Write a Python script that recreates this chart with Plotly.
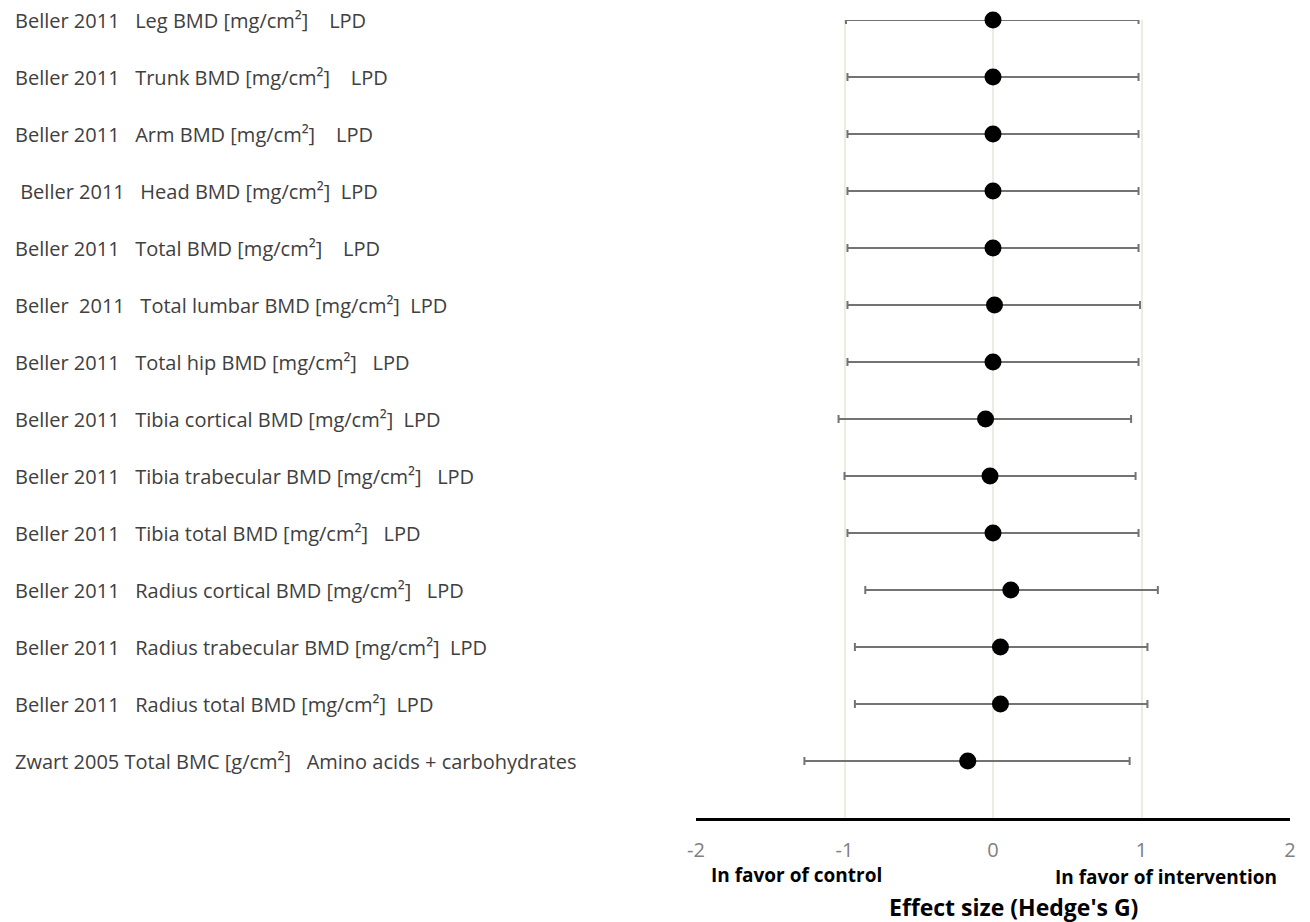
import plotly.graph_objects as go

labels = [
    "Beller 2011   Leg BMD [mg/cm²]    LPD",
    "Beller 2011   Trunk BMD [mg/cm²]    LPD",
    "Beller 2011   Arm BMD [mg/cm²]    LPD",
    " Beller 2011   Head BMD [mg/cm²]  LPD",
    "Beller 2011   Total BMD [mg/cm²]    LPD",
    "Beller  2011   Total lumbar BMD [mg/cm²]  LPD",
    "Beller 2011   Total hip BMD [mg/cm²]   LPD",
    "Beller 2011   Tibia cortical BMD [mg/cm²]  LPD",
    "Beller 2011   Tibia trabecular BMD [mg/cm²]   LPD",
    "Beller 2011   Tibia total BMD [mg/cm²]   LPD",
    "Beller 2011   Radius cortical BMD [mg/cm²]   LPD",
    "Beller 2011   Radius trabecular BMD [mg/cm²]  LPD",
    "Beller 2011   Radius total BMD [mg/cm²]  LPD",
    "Zwart 2005 Total BMC [g/cm²]   Amino acids + carbohydrates",
]
effect = [0.0, 0.0, 0.0, 0.0, 0.0, 0.01, 0.0, -0.05, -0.02, 0.0, 0.12, 0.05, 0.05, -0.17]
ci_low = [-0.99, -0.98, -0.98, -0.98, -0.98, -0.98, -0.98, -1.04, -1.00, -0.98, -0.86, -0.93, -0.93, -1.27]
ci_high = [0.98, 0.98, 0.98, 0.98, 0.98, 0.99, 0.98, 0.93, 0.96, 0.98, 1.11, 1.04, 1.04, 0.92]
x_ticks = [-2, -1, 0, 1, 2]

n = len(labels)
ypos = [n - i for i in range(n)]

# page body has an 8px margin; figure sized/offset to compensate
W, H = 1302, 914
L, R, T, B = 688, 20, 12, 104
plot_w = W - L - R

fig = go.Figure()
fig.add_trace(go.Scatter(
    x=effect, y=ypos, mode="markers",
    marker=dict(color="black", size=17),
    error_x=dict(type="data", symmetric=False,
                 array=[h - e for h, e in zip(ci_high, effect)],
                 arrayminus=[e - l for e, l in zip(effect, ci_low)],
                 color="#737373", thickness=2, width=4),
    cliponaxis=False, showlegend=False,
))

# zero line
fig.add_shape(type="line", x0=0, x1=0, y0=0, y1=n, xref="x", yref="y",
              line=dict(color="black", width=2), layer="below")

annotations = []
for lab, y in zip(labels, ypos):
    annotations.append(dict(
        text=lab.replace(" ", "\u00a0"), x=(5 - L) / plot_w, xref="paper", y=y, yref="y",
        xanchor="left", yanchor="middle", showarrow=False,
        font=dict(family="Open Sans", size=20, color="#404040")))

annotations.append(dict(text="<b>In favor of control</b>", x=-1.32, xref="x", y=-0.0715, yref="paper",
                        xanchor="center", yanchor="middle", showarrow=False,
                        font=dict(family="Open Sans", size=19, color="black")))
annotations.append(dict(text="<b>In favor of intervention</b>", x=1.165, xref="x", y=-0.0735, yref="paper",
                        xanchor="center", yanchor="middle", showarrow=False,
                        font=dict(family="Open Sans", size=19, color="black")))
annotations.append(dict(text="<b>Effect size (Hedge's G)</b>", x=0.135, xref="x", y=-0.111, yref="paper",
                        xanchor="center", yanchor="middle", showarrow=False,
                        font=dict(family="Open Sans", size=23, color="black")))

fig.update_layout(
    width=W, height=H,
    margin=dict(l=L, r=R, t=T, b=B),
    plot_bgcolor="white", paper_bgcolor="white",
    annotations=annotations,
    xaxis=dict(range=[-2, 2], tickvals=x_ticks, ticktext=[str(v) for v in x_ticks],
               showgrid=True, gridcolor="#ecece2", gridwidth=2, zeroline=False,
               showline=True, linecolor="black", linewidth=3,
               tickfont=dict(family="Open Sans", size=20, color="#808080"),
               ticks="", ticklabelstandoff=12, fixedrange=True),
    yaxis=dict(range=[0, n], showgrid=False, zeroline=False, showticklabels=False,
               showline=False, fixedrange=True),
)

fig.write_html("out.html")
